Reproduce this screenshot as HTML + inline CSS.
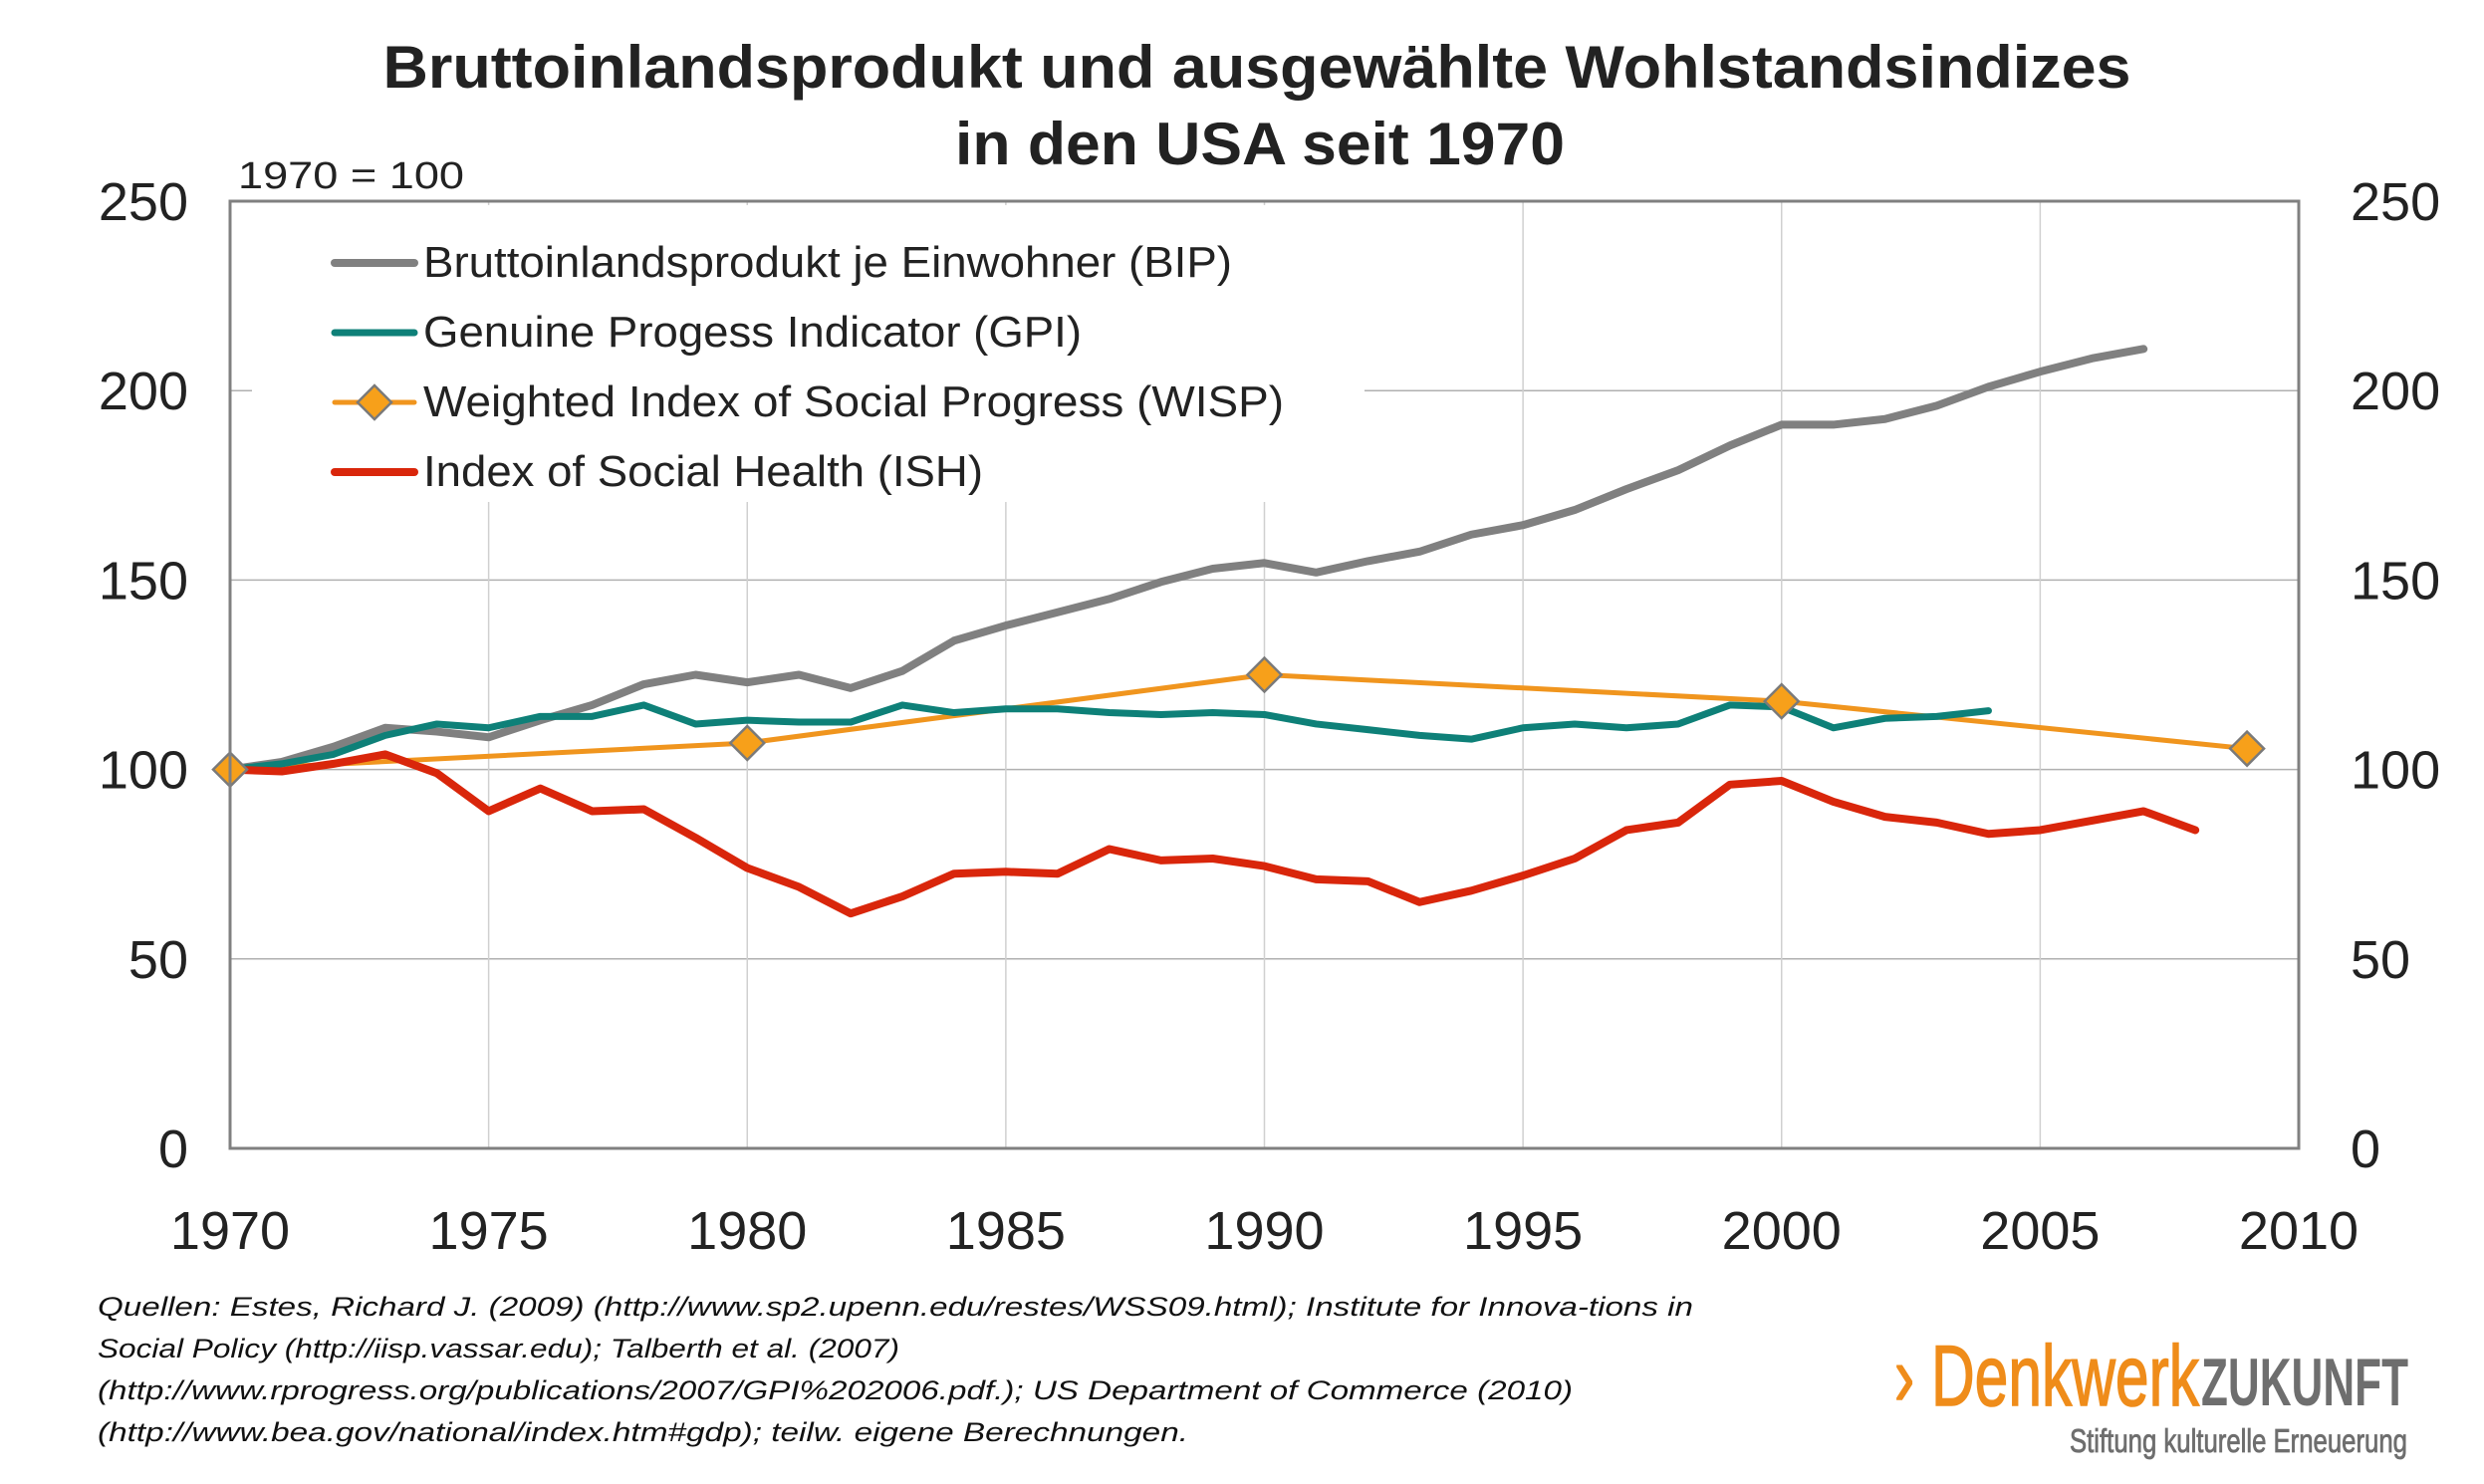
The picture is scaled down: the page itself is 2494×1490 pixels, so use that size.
<!DOCTYPE html>
<html><head><meta charset="utf-8"><style>
html,body{margin:0;padding:0;background:#fff;}
svg{display:block;font-family:"Liberation Sans",sans-serif;}
</style></head><body>
<svg id="chart" width="2494" height="1490" viewBox="0 0 2494 1490" xmlns="http://www.w3.org/2000/svg">
<text x="1262" y="88" text-anchor="middle" font-size="60" font-weight="bold" fill="#222" textLength="1755" lengthAdjust="spacingAndGlyphs">Bruttoinlandsprodukt und ausgewählte Wohlstandsindizes</text>
<text x="1265" y="165" text-anchor="middle" font-size="60" font-weight="bold" fill="#222" textLength="612" lengthAdjust="spacingAndGlyphs">in den USA seit 1970</text>
<text x="239" y="189" font-size="38" fill="#222" textLength="227" lengthAdjust="spacingAndGlyphs">1970 = 100</text>
<g id="grid"></g>
<rect x="253" y="206" width="1117" height="298" fill="#fff"/>
<g id="series"></g>
<rect x="231" y="202" width="2077" height="951" fill="none" stroke="#808080" stroke-width="3"/>
<g id="axes"></g>
<g id="legend"></g>
<g font-size="27" font-style="italic" fill="#111">
<text x="98" y="1321" textLength="1602" lengthAdjust="spacingAndGlyphs">Quellen: Estes, Richard J. (2009) (http://www.sp2.upenn.edu/restes/WSS09.html); Institute for Innova-tions in</text>
<text x="98" y="1363" textLength="805" lengthAdjust="spacingAndGlyphs">Social Policy (http://iisp.vassar.edu); Talberth et al. (2007)</text>
<text x="98" y="1405" textLength="1481" lengthAdjust="spacingAndGlyphs">(http://www.rprogress.org/publications/2007/GPI%202006.pdf.); US Department of Commerce (2010)</text>
<text x="98" y="1447" textLength="1095" lengthAdjust="spacingAndGlyphs">(http://www.bea.gov/national/index.htm#gdp); teilw. eigene Berechnungen.</text>
</g>
<g>
<text x="1902" y="1411" font-size="86" fill="#ef8c1a" stroke="#ef8c1a" stroke-width="1.5" textLength="306" lengthAdjust="spacingAndGlyphs">› Denkwerk</text>
<text x="2210" y="1411" font-size="68" font-weight="bold" fill="#6e6e6e" textLength="208" lengthAdjust="spacingAndGlyphs">ZUKUNFT</text>
<text x="2078" y="1458" font-size="33" fill="#6e6e6e" stroke="#6e6e6e" stroke-width="0.8" textLength="339" lengthAdjust="spacingAndGlyphs">Stiftung kulturelle Erneuerung</text>
</g>
</svg>
<script>
const bipYears=[1970,1971,1972,1973,1974,1975,1976,1977,1978,1979,1980,1981,1982,1983,1984,1985,1986,1987,1988,1989,1990,1991,1992,1993,1994,1995,1996,1997,1998,1999,2000,2001,2002,2003,2004,2005,2006,2007];
const bipValues=[100,102,106,111,110,108.5,113,117,122.5,125,123,125,121.5,126,134,138,141.5,145,149.5,153,154.5,152,155,157.5,162,164.5,168.5,174,179,185.5,191,191,192.5,196,201,205,208.5,211];
const gpiYears=[1970,1971,1972,1973,1974,1975,1976,1977,1978,1979,1980,1981,1982,1983,1984,1985,1986,1987,1988,1989,1990,1991,1992,1993,1994,1995,1996,1997,1998,1999,2000,2001,2002,2003,2004];
const gpiValues=[100,101.5,104,109,112,111,114,114,117,112,113,112.5,112.5,117,115,116,116,115,114.5,115,114.5,112,110.5,109,108,111,112,111,112,117,116.5,111,113.5,114,115.5];
const wispYears=[1970,1980,1990,2000,2009];
const wispValues=[100,107,125,118,105.5];
const ishYears=[1970,1971,1972,1973,1974,1975,1976,1977,1978,1979,1980,1981,1982,1983,1984,1985,1986,1987,1988,1989,1990,1991,1992,1993,1994,1995,1996,1997,1998,1999,2000,2001,2002,2003,2004,2005,2006,2007,2008];
const ishValues=[100,99.5,101.5,104,99,89,95,89,89.5,82,74,69,62,66.5,72.5,73,72.5,79,76,76.5,74.5,71,70.5,65,68,72,76.5,84,86,96,97,91.5,87.5,86,83,84,86.5,89,84];
const yTicks=[0,50,100,150,200,250];
const xTicks=[1970,1975,1980,1985,1990,1995,2000,2005,2010];
const legendLabels=["Bruttoinlandsprodukt je Einwohner (BIP)","Genuine Progess Indicator (GPI)","Weighted Index of Social Progress (WISP)","Index of Social Health (ISH)"];

const NS="http://www.w3.org/2000/svg";
const X0=231,X1=2308,Y0=1153,Y1=202;
function xs(yr){return X0+(yr-1970)/(2010-1970)*(X1-X0);}
function ys(v){return Y0-v/250*(Y0-Y1);}
function mk(tag,attrs,parent){const e=document.createElementNS(NS,tag);for(const k in attrs)e.setAttribute(k,attrs[k]);parent.appendChild(e);return e;}

const grid=document.getElementById('grid');
yTicks.forEach(t=>{if(t>0&&t<250){const l=mk('line',{x1:X0,x2:X1,y1:ys(t),y2:ys(t),stroke:'#b0b0b0','stroke-width':1.5},grid);

}});
xTicks.forEach(t=>{if(t>1970&&t<2010){const l=mk('line',{x1:xs(t),x2:xs(t),y1:Y1,y2:Y0,stroke:'#d0d0d0','stroke-width':1.5},grid);

}});

const axes=document.getElementById('axes');
yTicks.forEach(t=>{
 const a=mk('text',{x:189,y:ys(t)+19,'text-anchor':'end','font-size':54,fill:'#222'},axes);a.textContent=t;
 
 
 const b=mk('text',{x:2360,y:ys(t)+19,'text-anchor':'start','font-size':54,fill:'#222'},axes);b.textContent=t;
 
 
});
xTicks.forEach(t=>{const a=mk('text',{x:xs(t),y:1254,'text-anchor':'middle','font-size':54,fill:'#222'},axes);a.textContent=t;
 
 });

const series=document.getElementById('series');
function line(years,vals,color,w,name){
 const p=mk('polyline',{points:years.map((y,i)=>xs(y)+','+ys(vals[i])).join(' '),fill:'none',stroke:color,'stroke-width':w,'stroke-linejoin':'round','stroke-linecap':'round'},series);
 
 
}
function diamond(cx,cy,parent){
 return mk('polygon',{points:`${cx},${cy-17} ${cx+17},${cy} ${cx},${cy+17} ${cx-17},${cy}`,fill:'#f7a01a',stroke:'#7a7a7a','stroke-width':2.5},parent);
}
line(bipYears,bipValues,'#808080',8,'bip-line');
line(wispYears,wispValues,'#f0951e',5,'wisp-line');
line(gpiYears,gpiValues,'#0e8078',7,'gpi-line');
line(ishYears,ishValues,'#d9260b',8,'ish-line');
wispYears.forEach((y,i)=>{const d=diamond(xs(y),ys(wispValues[i]),series);
 
 });

const legend=document.getElementById('legend');
const lgColors=['#808080','#0e8078','#f0951e','#d9260b'];
const lgWidths=[8,7,5,8];
const lgText=[812,661,864,562];
const lgY=[264,334,404,474];
legendLabels.forEach((lab,i)=>{
 const g=mk('g',{},legend);
 
 
 mk('line',{x1:336,x2:416,y1:lgY[i],y2:lgY[i],stroke:lgColors[i],'stroke-width':lgWidths[i],'stroke-linecap':'round'},g);
 if(i===2){diamond(376,lgY[i],g);}
 const t=mk('text',{x:425,y:lgY[i]+14,'font-size':44,fill:'#222',textLength:lgText[i],lengthAdjust:'spacingAndGlyphs'},g);
 t.textContent=lab;
});
</script>
</body></html>
